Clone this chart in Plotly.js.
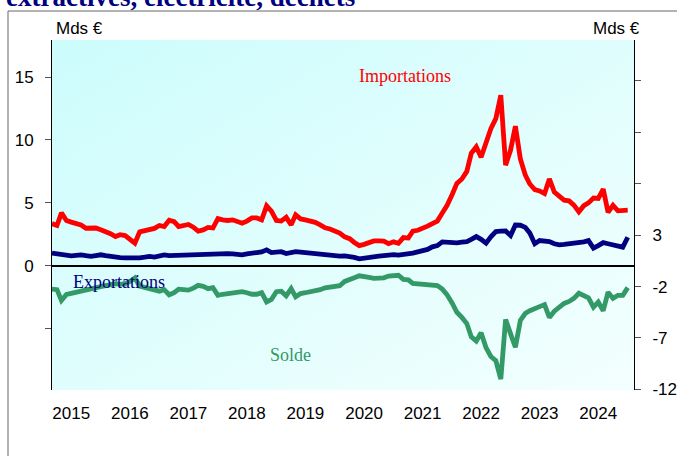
<!DOCTYPE html>
<html>
<head>
<meta charset="utf-8">
<script src="https://cdn.plot.ly/plotly-3.0.1.min.js"></script>
<style>
  html, body { margin: 0; padding: 0; background: #ffffff; }
  #chart { width: 688px; height: 456px; }
</style>
</head>
<body>
<div id="chart"></div>
<script>
// Monthly series, Jan 2015 onward (Mds €)
const startYear = 2015;
const importations = [
  3.35, 3.2, 4.2, 3.6, 3.47, 3.4, 3.24, 2.98, 2.95, 3.0,
  2.86, 2.75, 2.55, 2.32, 2.47, 2.4, 2.15, 1.8, 2.7, 2.79,
  2.83, 2.97, 3.2, 3.12, 3.62, 3.5, 3.12, 3.2, 3.28, 3.07,
  2.75, 2.85, 3.05, 3.0, 3.75, 3.65, 3.6, 3.65, 3.55, 3.38,
  3.55, 3.8, 3.8, 3.65, 4.76, 4.35, 3.6, 3.55, 3.85, 3.25,
  4.05, 3.72, 3.65, 3.55, 3.45, 3.25, 3.02, 2.92, 2.77, 2.6,
  2.3, 2.15, 1.85, 1.6, 1.7, 1.85, 1.97, 1.97, 1.95, 1.75,
  1.9, 1.79, 2.24, 2.2, 2.75, 2.82, 2.95, 3.15, 3.35, 3.55,
  4.2, 4.8, 5.65, 6.55, 6.9, 7.5, 8.95, 9.45, 8.63, 9.85,
  10.9, 11.7, 13.56, 8.0, 9.2, 11.1, 8.5, 7.2, 6.5, 6.05,
  5.95, 5.74, 6.9, 5.85, 5.5, 5.22, 5.16, 4.82, 4.29, 4.78,
  5.0, 5.38, 5.35, 6.1, 4.25, 4.8, 4.37, 4.37, 4.42
];
const exportations = [
  1.0, 0.93, 0.87, 0.83, 0.79, 0.83, 0.87, 0.8, 0.74, 0.8,
  0.87, 0.8, 0.72, 0.69, 0.65, 0.62, 0.61, 0.62, 0.63, 0.68,
  0.74, 0.69, 0.78, 0.86, 0.8, 0.82, 0.85, 0.87, 0.86, 0.86,
  0.87, 0.9, 0.95, 0.98, 1.0, 0.98, 0.96, 0.95, 0.92, 0.87,
  0.95, 1.05, 1.05, 1.1, 1.26, 1.05, 1.05, 1.12, 0.97, 1.05,
  1.12, 1.08, 1.04, 1.02, 1.0, 0.95, 0.88, 0.8, 0.74, 0.76,
  0.78, 0.75, 0.66, 0.55, 0.58, 0.65, 0.7, 0.76, 0.8, 0.86,
  0.88, 0.85, 0.88, 0.93, 1.0, 1.1, 1.2, 1.3, 1.5, 1.6,
  1.9, 1.85, 1.8, 1.82, 1.87, 1.92, 2.1, 2.32, 2.1, 1.8,
  2.3, 2.72, 2.75, 2.76, 2.4, 3.24, 3.22, 3.05, 2.6, 1.75,
  2.0, 2.0, 1.92, 1.75, 1.66, 1.7, 1.74, 1.76, 1.79, 1.9,
  2.0, 1.4, 1.6, 1.84, 1.75, 1.66, 1.58, 1.48, 2.27
];
const solde = [
  -2.25, -2.3, -3.35, -2.77, -2.67, -2.55, -2.4, -2.25, -2.18, -2.1,
  -2.0, -1.9, -1.83, -1.72, -1.78, -1.72, -1.5, -1.17, -1.95, -2.1,
  -2.15, -2.3, -2.45, -2.3, -2.8, -2.6, -2.25, -2.3, -2.35, -2.15,
  -1.88, -1.98, -2.2, -2.1, -2.85, -2.75, -2.7, -2.68, -2.65, -2.5,
  -2.6, -2.75, -2.75, -2.6, -3.5, -3.25, -2.5, -2.45, -2.9, -2.2,
  -3.0, -2.68, -2.6, -2.52, -2.4, -2.3, -2.12, -2.08, -2.02, -1.92,
  -1.5, -1.38, -1.15, -0.95, -0.97, -1.1, -1.2, -1.18, -1.15, -0.98,
  -0.95, -0.9, -1.3, -1.35, -1.7, -1.75, -1.78, -1.8, -1.8, -1.9,
  -2.25, -2.8, -3.6, -4.5, -5.0, -5.6, -6.9, -7.3, -6.5, -7.95,
  -8.8, -9.2, -11.0, -5.2, -6.6, -7.9, -5.3, -4.6, -4.35, -4.2,
  -3.95, -3.75, -5.0, -4.4, -4.0, -3.64, -3.45, -3.15, -2.65, -2.85,
  -3.09, -4.0, -3.5, -4.35, -2.55, -3.15, -2.85, -2.85, -2.1
];
const yearLabels = ['2015','2016','2017','2018','2019','2020','2021','2022','2023','2024'];
const leftTickVals = [-10, -5, 0, 5, 10, 15];
const leftTickText = ['', '', '0', '5', '10', '15'];
const rightTickVals = [-12, -7, -2, 3, 8, 13, 18];
const rightTickText = ['-12', '-7', '-2', '3', '', '', ''];

// month dates for the x axis
const months = importations.map((_, i) => {
  const y = startYear + Math.floor(i / 12);
  const m = (i % 12) + 1;
  return y + '-' + String(m).padStart(2, '0') + '-01';
});

const W = 688, H = 456;
const M = {l: 52, r: 54, t: 40, b: 66};
const PW = W - M.l - M.r, PH = H - M.t - M.b;
const px = x => (x - M.l) / PW;       // pixel -> paper x
const py = y => (H - M.b - y) / PH;   // pixel -> paper y

const sansFont = 'Liberation Sans, Arial, sans-serif';
const serifFont = 'Liberation Serif, Times New Roman, serif';

const traces = [
  {x: months, y: solde, type: 'scatter', mode: 'lines', yaxis: 'y2',
   line: {color: '#339966', width: 4.8}, hoverinfo: 'skip'},
  {x: months, y: exportations, type: 'scatter', mode: 'lines',
   line: {color: '#000080', width: 4.8}, hoverinfo: 'skip'},
  {x: months, y: importations, type: 'scatter', mode: 'lines',
   line: {color: '#ff0000', width: 4.8}, hoverinfo: 'skip'}
];

const bgSvg = '<svg xmlns="http://www.w3.org/2000/svg" width="100" height="100" preserveAspectRatio="none">' +
  '<defs><linearGradient id="g" x1="0" y1="0" x2="1" y2="1">' +
  '<stop offset="0" stop-color="#ccfcfc"/><stop offset="1" stop-color="#f3fffe"/>' +
  '</linearGradient></defs><rect width="100" height="100" fill="url(#g)"/></svg>';

const layout = {
  width: W, height: H,
  margin: M,
  paper_bgcolor: '#ffffff',
  plot_bgcolor: 'rgba(0,0,0,0)',
  showlegend: false,
  font: {family: sansFont, size: 17, color: '#000000'},
  xaxis: {
    type: 'date',
    range: ['2015-01-01', '2024-12-10'],
    tickvals: yearLabels.map(y => y + '-05-01'),
    ticktext: yearLabels,
    ticks: 'outside', ticklen: 8, tickcolor: 'rgba(0,0,0,0)',
    showgrid: false, zeroline: false, showline: false,
    tickfont: {family: sansFont, size: 17, color: '#000000'}
  },
  yaxis: {
    range: [-9.88, 17.95],
    tickvals: leftTickVals, ticktext: leftTickText,
    ticks: 'outside', ticklen: 6, tickcolor: '#555555', tickwidth: 1,
    ticklabelstandoff: 8,
    showgrid: false,
    zeroline: true, zerolinecolor: '#000000', zerolinewidth: 1.5,
    showline: true, linecolor: '#000000', linewidth: 1,
    tickfont: {family: sansFont, size: 17, color: '#000000'}
  },
  yaxis2: {
    overlaying: 'y', side: 'right',
    range: [-12.06, 21.98],
    tickvals: rightTickVals, ticktext: rightTickText,
    ticks: 'outside', ticklen: 6, tickcolor: '#555555', tickwidth: 1,
    ticklabelstandoff: 8,
    showgrid: false, zeroline: false,
    showline: true, linecolor: '#000000', linewidth: 1,
    tickfont: {family: sansFont, size: 17, color: '#000000'}
  },
  images: [{
    source: 'data:image/svg+xml;charset=utf-8,' + encodeURIComponent(bgSvg),
    xref: 'paper', yref: 'paper', x: 0, y: 1, sizex: 1, sizey: 1,
    xanchor: 'left', yanchor: 'top', sizing: 'stretch', layer: 'below'
  }],
  shapes: [
    {type: 'line', xref: 'paper', yref: 'paper', x0: px(8), x1: px(8), y0: py(11), y1: py(460),
     line: {color: '#666666', width: 1}},
    {type: 'line', xref: 'paper', yref: 'paper', x0: px(8), x1: px(677), y0: py(11), y1: py(11),
     line: {color: '#666666', width: 1}}
  ],
  annotations: [
    {text: 'extractives, électricité, déchets', xref: 'paper', yref: 'paper',
     x: px(4), y: py(-2.5), xanchor: 'left', yanchor: 'middle', showarrow: false,
     font: {family: serifFont, size: 27, color: '#000080', weight: 'bold'}},
    {text: 'Mds €', xref: 'paper', yref: 'paper', x: px(79), y: py(28),
     xanchor: 'center', yanchor: 'middle', showarrow: false,
     font: {family: sansFont, size: 17, color: '#000000'}},
    {text: 'Mds €', xref: 'paper', yref: 'paper', x: px(616), y: py(28),
     xanchor: 'center', yanchor: 'middle', showarrow: false,
     font: {family: sansFont, size: 17, color: '#000000'}},
    {text: 'Importations', xref: 'paper', yref: 'paper', x: px(405), y: py(76),
     xanchor: 'center', yanchor: 'middle', showarrow: false,
     font: {family: serifFont, size: 18, color: '#ff0000'}},
    {text: 'Exportations', xref: 'paper', yref: 'paper', x: px(119), y: py(282),
     xanchor: 'center', yanchor: 'middle', showarrow: false,
     font: {family: serifFont, size: 18, color: '#000080'}},
    {text: 'Solde', xref: 'paper', yref: 'paper', x: px(290), y: py(355),
     xanchor: 'center', yanchor: 'middle', showarrow: false,
     font: {family: serifFont, size: 18, color: '#339966'}}
  ]
};

Plotly.newPlot('chart', traces, layout, {displayModeBar: false, staticPlot: true});
</script>
</body>
</html>
